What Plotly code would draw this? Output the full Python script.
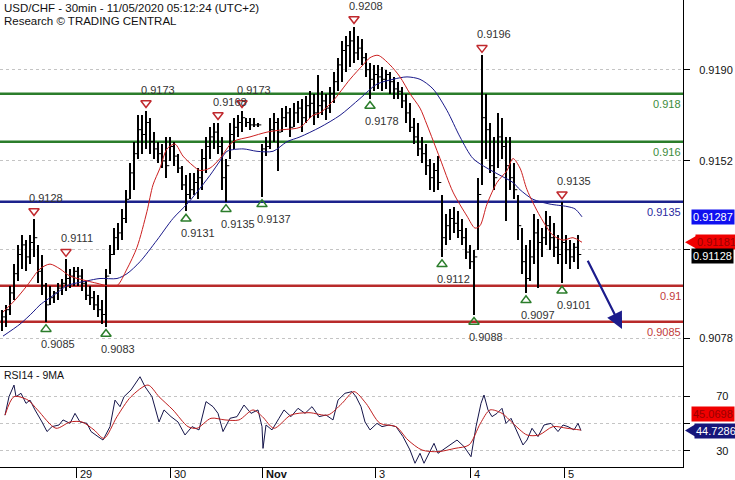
import numpy as np
import plotly.graph_objects as go

# ---------------- data (prices in 1e-4 CHF, i.e. 9128 = 0.9128) ----------------
HIGH = [9090, 9092, 9100, 9109, 9117, 9121, 9119, 9121, 9128, 9117,
        9113, 9101, 9100, 9098, 9101, 9103, 9111, 9107, 9108, 9108,
        9107, 9102, 9100, 9098, 9096, 9094, 9107, 9117, 9124, 9126,
        9132, 9140, 9151, 9160, 9171, 9171, 9173, 9170, 9164, 9160,
        9159, 9162, 9162, 9160, 9155, 9150, 9146, 9147, 9147, 9149,
        9157, 9162, 9166, 9168, 9168, 9162, 9153, 9168, 9170, 9171,
        9173, 9170, 9170, 9170, 9168, 9159, 9162, 9170, 9172, 9170,
        9174, 9175, 9174, 9176, 9177, 9178, 9179, 9181, 9180, 9188,
        9181, 9180, 9183, 9189, 9195, 9202, 9204, 9206, 9208, 9204,
        9203, 9197, 9193, 9192, 9192, 9191, 9190, 9189, 9187, 9185,
        9183, 9180, 9176, 9170, 9168, 9162, 9159, 9153, 9151, 9154,
        9138, 9130, 9132, 9133, 9131, 9128, 9124, 9117, 9115, 9145,
        9196, 9180, 9168, 9162, 9172, 9170, 9162, 9162, 9151, 9138,
        9124, 9117, 9119, 9130, 9128, 9124, 9131, 9129, 9126, 9121,
        9135, 9121, 9119, 9118, 9121]
LOW = [9081, 9083, 9088, 9094, 9102, 9107, 9106, 9109, 9112, 9101,
       9096, 9085, 9092, 9093, 9094, 9096, 9098, 9099, 9100, 9100,
       9098, 9094, 9092, 9090, 9087, 9084, 9083, 9105, 9113, 9115,
       9119, 9126, 9136, 9140, 9153, 9155, 9157, 9155, 9153, 9151,
       9149, 9145, 9152, 9150, 9147, 9140, 9131, 9136, 9138, 9136,
       9140, 9147, 9153, 9157, 9155, 9140, 9135, 9153, 9157, 9162,
       9164, 9166, 9165, 9166, 9166, 9137, 9154, 9157, 9160, 9148,
       9164, 9166, 9162, 9166, 9168, 9164, 9168, 9170, 9167, 9170,
       9171, 9169, 9172, 9176, 9181, 9185, 9189, 9191, 9193, 9194,
       9192, 9187, 9178, 9181, 9182, 9181, 9182, 9180, 9178, 9178,
       9174, 9168, 9164, 9159, 9154, 9151, 9146, 9140, 9139, 9140,
       9112, 9117, 9119, 9122, 9120, 9117, 9111, 9107, 9088, 9115,
       9142, 9153, 9147, 9140, 9149, 9153, 9127, 9140, 9136, 9119,
       9105, 9097, 9102, 9109, 9099, 9112, 9117, 9115, 9112, 9109,
       9101, 9109, 9107, 9110, 9107]
CLOSE = [9087, 9090, 9097, 9105, 9113, 9117, 9112, 9118, 9120, 9106,
         9100, 9092, 9095, 9097, 9099, 9101, 9103, 9104, 9106, 9104,
         9101, 9096, 9095, 9092, 9090, 9088, 9104, 9113, 9120, 9122,
         9128, 9136, 9147, 9155, 9165, 9163, 9168, 9160, 9157, 9155,
         9152, 9150, 9158, 9154, 9149, 9142, 9138, 9140, 9143, 9145,
         9153, 9158, 9162, 9164, 9158, 9145, 9150, 9163, 9166, 9168,
         9170, 9168, 9167, 9167, 9167, 9157, 9158, 9165, 9168, 9164,
         9170, 9172, 9166, 9172, 9174, 9170, 9175, 9176, 9172, 9175,
         9177, 9174, 9180, 9185, 9192, 9198, 9200, 9202, 9197, 9199,
         9195, 9190, 9186, 9188, 9187, 9186, 9188, 9185, 9182, 9181,
         9177, 9172, 9166, 9162, 9157, 9155, 9150, 9145, 9148, 9143,
         9120, 9125, 9128, 9126, 9123, 9120, 9114, 9110, 9112, 9138,
         9170, 9165, 9150, 9145, 9162, 9158, 9150, 9145, 9140, 9125,
         9110, 9103, 9112, 9122, 9118, 9120, 9125, 9120, 9116, 9113,
         9118, 9115, 9112, 9116, 9113]

# moving averages on price, bar-index positions
RED_MA_IDX = [0.25, 3.25, 6.25, 9.5, 12, 14.5, 17, 21.25, 23.75, 26.25, 28.75,
              31.25, 33.75, 36.25, 37.75, 39.5, 41.25, 43.25, 45.25, 47.75, 49.5,
              52, 54.5, 57.75, 62, 66.25, 70.25, 74.5, 77.75, 79.5, 82.75, 87,
              90.25, 92, 94, 97, 99.5, 102, 104.5, 106.25, 109.5, 112.75, 116.25,
              118.25, 119.5, 121.25, 123.75, 126.25, 127.75, 129.5, 131.25, 134.5,
              137.75, 140.25, 142.75, 145]
RED_MA = [9089, 9094, 9100, 9107, 9109, 9107, 9104, 9102, 9101, 9100, 9100,
          9107, 9116, 9131, 9142, 9149, 9157, 9159, 9154, 9150, 9148,
          9149, 9153, 9160, 9162, 9164, 9165, 9166, 9171, 9172, 9177, 9186,
          9192, 9195, 9196, 9192, 9187, 9180, 9174, 9167, 9153, 9139, 9129,
          9124, 9125, 9134, 9143, 9148, 9153, 9149, 9140, 9129,
          9121, 9119, 9120, 9118.1]
BLUE_MA_IDX = [0.25, 4.5, 7.75, 9.5, 13.75, 16.25, 21.25, 24.5, 28.75, 31.25,
               34.5, 38.75, 42.75, 46.25, 48.75, 52, 54.5, 56.25, 60.25, 63.75,
               67.75, 71.25, 74.5, 79.5, 84.5, 89.5, 93.75, 97.75, 101.25, 104.5,
               107.75, 111.25, 114.5, 117.75, 121.25, 124.5, 127.75, 129.5,
               132.75, 137, 141.25, 143.25, 145]
BLUE_MA = [9079, 9084, 9089, 9092, 9097, 9100, 9102, 9103, 9103, 9105,
           9110, 9119, 9128, 9134, 9139, 9146, 9152, 9156, 9157, 9156,
           9156, 9160, 9162, 9166, 9171, 9178, 9184, 9186, 9187, 9186,
           9182, 9173, 9162, 9153, 9149, 9146, 9143, 9140,
           9136, 9134, 9133, 9132, 9128.7]

# RSI(14) and its 9-period MA
RSI_IDX = [0.75, 1.75, 3, 3.5, 4.75, 6, 7, 8.25, 10, 11.25, 12.5, 14.25, 15.25,
           17, 18.25, 19.5, 21.25, 22.25, 24, 25.25, 27, 28.25, 29.5, 30.5,
           32.25, 34.5, 35.75, 37.5, 39.25, 40.5, 42.25, 44, 45.75, 47.5, 49.25,
           51, 52.75, 54, 55.25, 57, 58.75, 60.5, 62.25, 64, 65, 65.25, 66,
           67.5, 69.25, 70.5, 72.25, 74, 75.75, 77.5, 79.25, 81, 82.75, 84,
           85.75, 87.5, 88.5, 89.75, 90.75, 92, 93.75, 95, 96.75, 98.5, 100.25,
           102, 103.25, 104.5, 105.5, 106.75, 108, 109, 110.25, 112, 113.75,
           115.5, 117.25, 118.5, 119.75, 120.5, 121.5, 122.5, 123.75, 125, 126,
           127.25, 128.5, 130.25, 131.25, 132.5, 134, 135.5, 137.25, 139,
           140.25, 141.5, 143, 144, 144.75]
RSI = [56, 69.5, 78, 69.5, 72, 64.6, 67, 59.8, 51, 44, 47.6, 48.8, 52.5,
       50, 57.3, 51, 50, 44, 40.3, 37.8, 47.6, 67, 62.2, 69.5,
       74.4, 84.1, 76.8, 69.5, 51, 59.8, 54.9, 51, 41.5, 47.6, 45.2,
       65.9, 62.2, 57.3, 44, 53.7, 54.9, 63.4, 57.3, 59.8, 47.6, 31.7, 48.8,
       45.2, 53.7, 59.8, 54.9, 61, 57.3, 62.2, 54.9, 56.1, 52.5, 67,
       72, 73.2, 69.5, 62.2, 51, 45.2, 50, 47.6, 48.8, 47.6, 40.3,
       30.5, 20.8, 28.1, 20.8, 28.1, 35.4, 28.1, 30.5, 34.2, 37.8,
       33, 25.6, 47.6, 64.6, 70.7, 59.8, 54.9, 57.3, 61, 50,
       53.7, 45.2, 34.2, 37.8, 46.4, 40.3, 48.8, 50, 44,
       48.8, 47.6, 45.2, 50, 44.73]
RSI_MA_IDX = [0.75, 3, 6.5, 8.9, 13.5, 17, 20, 23, 25.5, 28.75, 32.25, 36.5,
              39.25, 42.75, 46.5, 48.75, 52.25, 55.75, 59.25, 62.75, 65.1, 68,
              72.25, 76.75, 81.5, 85, 88, 91, 94.5, 98.5, 101.5, 105, 109,
              113.25, 116.75, 119.6, 122, 125, 127.75, 131.25, 134.25, 137.75,
              141.25, 144.75]
RSI_MA = [56, 69.5, 67, 59.8, 46.4, 51, 51, 45.2, 39, 54.9, 69.5, 78,
          69.5, 59.8, 47.6, 46.4, 53.7, 52.5, 52.5, 59.8, 54.9, 46.4,
          56.1, 57.8, 56.1, 64.6, 73.2, 64.6, 50, 47.6, 37.8, 30.5, 29.3,
          31.7, 34.2, 50, 59.8, 57.3, 50, 41.5, 41.5, 47.6,
          46.4, 45.07]

# day ticks on the time axis (bar-index positions)
TICK_POS = [18.5, 42, 65, 93.25, 117, 140.5]
TICK_LABELS = ["29", "30", "<b>Nov</b>", "3", "4", "5"]

PRICE_TICKS = [0.9078, 0.9115, 0.9152, 0.9190]
PRICE_TICK_TEXT = ["0.9078", "", "0.9152", "0.9190"]
RSI_TICKS = [30, 50, 70]
RSI_TICK_TEXT = ["30", "", "70"]

LEVELS = [0.918, 0.916, 0.9135, 0.91, 0.9085]
LEVEL_LABELS = ["0.918", "0.916", "0.9135", "0.91", "0.9085"]
LEVEL_COLORS = ["#2b7d2b", "#2b7d2b", "#1c228c", "#b82a2a", "#b82a2a"]
LEVEL_TEXT_COLORS = ["#3c8c3c", "#3c8c3c", "#2a2aa0", "#c23c3c", "#c23c3c"]

PEAK_IDX = [8, 16, 36, 54, 60, 88, 120, 140]
PEAK_VAL = [0.9128, 0.9111, 0.9173, 0.9168, 0.9173, 0.9208, 0.9196, 0.9135]
TROUGH_IDX = [11, 26, 46, 56, 65, 92, 110, 118, 131, 140]
TROUGH_VAL = [0.9085, 0.9083, 0.9131, 0.9135, 0.9137, 0.9178, 0.9112, 0.9088,
              0.9097, 0.9101]

LAST_PRICE = 0.91128
LAST_RED_MA = 0.91181
LAST_BLUE_MA = 0.91287
LAST_RSI = 44.7286
LAST_RSI_MA = 45.0698

FORECAST_IDX = [146.25, 155]
FORECAST_PRICE = [0.9111, 0.9082]

# ---------------- figure ----------------
FONT = "Liberation Sans, Arial, sans-serif"
W, H = 735, 480
ML, MR, MT, MB = 0, 52, 0, 13
PLOT_W = W - ML - MR
PLOT_H = H - MT - MB
SPLIT = 101 / PLOT_H  # RSI panel height fraction

hi = np.array(HIGH) / 1e4
lo = np.array(LOW) / 1e4
cl = np.array(CLOSE) / 1e4
idx = np.arange(len(HIGH))

fig = go.Figure()

fig.add_trace(go.Bar(x=idx, y=hi - lo, base=lo, width=0.62,
                     marker=dict(color="black", line=dict(width=0)),
                     xaxis="x", yaxis="y", showlegend=False, hoverinfo="skip"))
fig.add_trace(go.Scatter(x=idx + 0.3, y=cl, mode="markers",
                         marker=dict(symbol="line-ew", size=3, color="black",
                                     line=dict(width=1, color="black")),
                         xaxis="x", yaxis="y", showlegend=False, hoverinfo="skip"))
fig.add_trace(go.Scatter(x=BLUE_MA_IDX, y=np.array(BLUE_MA) / 1e4, mode="lines",
                         line=dict(color="#1a1a8a", width=1, shape="spline", smoothing=0.8),
                         xaxis="x", yaxis="y", showlegend=False, hoverinfo="skip"))
fig.add_trace(go.Scatter(x=RED_MA_IDX, y=np.array(RED_MA) / 1e4, mode="lines",
                         line=dict(color="#cc2020", width=1, shape="spline", smoothing=0.8),
                         xaxis="x", yaxis="y", showlegend=False, hoverinfo="skip"))

TRI_OFF = 0.00031
fig.add_trace(go.Scatter(x=PEAK_IDX, y=np.array(PEAK_VAL) + TRI_OFF, mode="markers",
                         marker=dict(symbol="triangle-down-open", size=9, color="#c0282d",
                                     line=dict(width=1.5, color="#c0282d")),
                         xaxis="x", yaxis="y", showlegend=False, hoverinfo="skip"))
fig.add_trace(go.Scatter(x=TROUGH_IDX, y=np.array(TROUGH_VAL) - TRI_OFF, mode="markers",
                         marker=dict(symbol="triangle-up-open", size=9, color="#2b7d2b",
                                     line=dict(width=1.5, color="#2b7d2b")),
                         xaxis="x", yaxis="y", showlegend=False, hoverinfo="skip"))

# RSI panel
fig.add_trace(go.Scatter(x=RSI_IDX, y=RSI, mode="lines",
                         line=dict(color="#15154a", width=1),
                         xaxis="x2", yaxis="y2", showlegend=False, hoverinfo="skip"))
fig.add_trace(go.Scatter(x=RSI_MA_IDX, y=RSI_MA, mode="lines",
                         line=dict(color="#c02020", width=1, shape="spline", smoothing=0.8),
                         xaxis="x2", yaxis="y2", showlegend=False, hoverinfo="skip"))

XR = [-0.5, 170.25]
shapes = []
annotations = []

for lv, lab, c, tc in zip(LEVELS, LEVEL_LABELS, LEVEL_COLORS, LEVEL_TEXT_COLORS):
    shapes.append(dict(type="line", xref="paper", yref="y", x0=0, x1=1, y0=lv, y1=lv,
                       line=dict(color=c, width=2.5), layer="below"))
    annotations.append(dict(xref="paper", yref="y", x=1, y=lv, xanchor="right",
                            yanchor="top", yshift=-2, text=lab, showarrow=False,
                            font=dict(family=FONT, size=11, color=tc)))

for xi, v in zip(PEAK_IDX, PEAK_VAL):
    annotations.append(dict(xref="x", yref="y", x=xi, y=v, xanchor="left",
                            yanchor="middle", xshift=-7, yshift=21,
                            text=f"{v:.4f}", showarrow=False,
                            font=dict(family=FONT, size=11, color="#333333")))
for xi, v in zip(TROUGH_IDX, TROUGH_VAL):
    annotations.append(dict(xref="x", yref="y", x=xi, y=v, xanchor="left",
                            yanchor="middle", xshift=-7, yshift=-22,
                            text=f"{v:.4f}", showarrow=False,
                            font=dict(family=FONT, size=11, color="#333333")))

# forecast arrow
annotations.append(dict(xref="x", yref="y", axref="x", ayref="y",
                        x=FORECAST_IDX[1], y=FORECAST_PRICE[1],
                        ax=FORECAST_IDX[0], ay=FORECAST_PRICE[0],
                        text="", showarrow=True, arrowhead=2, arrowsize=1.5,
                        arrowwidth=2.2, arrowcolor="#1c1c8c"))

# title
annotations.append(dict(xref="paper", yref="paper", x=0, y=1, xanchor="left",
                        yanchor="top", xshift=2, yshift=0,
                        text="USD/CHF - 30min - 11/05/2020 05:12:24 (UTC+2)",
                        showarrow=False, font=dict(family=FONT, size=11.5, color="#111111")))
annotations.append(dict(xref="paper", yref="paper", x=0, y=1, xanchor="left",
                        yanchor="top", xshift=2, yshift=-13,
                        text="Research © TRADING CENTRAL",
                        showarrow=False, font=dict(family=FONT, size=11.5, color="#111111")))
annotations.append(dict(xref="paper", yref="paper", x=0, y=SPLIT, xanchor="left",
                        yanchor="top", xshift=2, yshift=-1, text="RSI14 - 9MA",
                        showarrow=False, font=dict(family=FONT, size=10.5, color="#111111")))

# day labels
for tp, tl in zip(TICK_POS, TICK_LABELS):
    annotations.append(dict(xref="x2", yref="paper", x=tp, y=0, xanchor="left",
                            yanchor="top", xshift=2, yshift=1, text=tl,
                            showarrow=False,
                            font=dict(family=FONT, size=11, color="#111111")))

# right-side value tags
def px2paper(px):
    return px / PLOT_W

annotations.append(dict(xref="paper", yref="y", x=px2paper(691), y=LAST_BLUE_MA,
                        xanchor="left", yanchor="middle", text=f"{LAST_BLUE_MA:.5f}",
                        showarrow=False, bgcolor="#1010f0", borderpad=1,
                        font=dict(family=FONT, size=11, color="white")))
annotations.append(dict(xref="paper", yref="y", x=px2paper(695), y=LAST_RED_MA,
                        xanchor="left", yanchor="middle", text=f"{LAST_RED_MA:.5f}",
                        showarrow=False, bgcolor="#f00000", borderpad=1,
                        font=dict(family=FONT, size=11, color="#9a0000")))
shapes.append(dict(type="path", xref="paper", yref="y", fillcolor="#f00000",
                   line=dict(width=0),
                   path=f"M {px2paper(685)},{LAST_RED_MA} L {px2paper(696)},{LAST_RED_MA + 0.00026} "
                        f"L {px2paper(696)},{LAST_RED_MA - 0.00026} Z"))
annotations.append(dict(xref="paper", yref="y", x=px2paper(691), y=LAST_PRICE,
                        xanchor="left", yanchor="middle", yshift=-1, text=f"{LAST_PRICE:.5f}",
                        showarrow=False, bgcolor="#000000", borderpad=1,
                        font=dict(family=FONT, size=11, color="white")))

annotations.append(dict(xref="paper", yref="y2", x=px2paper(691), y=LAST_RSI_MA,
                        xanchor="left", yanchor="middle", yshift=16,
                        text=f"{LAST_RSI_MA:.4f}", showarrow=False, bgcolor="#f00000",
                        borderpad=1, font=dict(family=FONT, size=11, color="#9a0000")))
annotations.append(dict(xref="paper", yref="y2", x=px2paper(694), y=LAST_RSI,
                        xanchor="left", yanchor="middle",
                        text=f"{LAST_RSI:.4f}", showarrow=False, bgcolor="#15157a",
                        borderpad=1, font=dict(family=FONT, size=11, color="white")))
shapes.append(dict(type="path", xref="paper", yref="y2", fillcolor="#15157a",
                   line=dict(width=0),
                   path=f"M {px2paper(685)},{LAST_RSI} L {px2paper(695)},{LAST_RSI + 4.4} "
                        f"L {px2paper(695)},{LAST_RSI - 4.4} Z"))

axis_common = dict(showgrid=False, zeroline=False, automargin=False)

fig.update_layout(
    width=W, height=H, template="none",
    margin=dict(l=ML, r=MR, t=MT, b=MB, pad=0),
    paper_bgcolor="white", plot_bgcolor="white",
    showlegend=False, hovermode=False,
    font=dict(family=FONT, size=11, color="#111111"),
    xaxis=dict(domain=[0, 1], anchor="y", range=XR, showticklabels=False, ticks="",
               showline=True, linecolor="black", linewidth=1, **axis_common),
    xaxis2=dict(domain=[0, 1], anchor="y2", range=XR, tickvals=TICK_POS,
                ticktext=[""] * len(TICK_POS), ticks="outside", ticklen=10,
                tickcolor="black", tickwidth=1, showline=True, linecolor="black",
                linewidth=1, **axis_common),
    yaxis=dict(domain=[SPLIT, 1], anchor="x", side="right",
               range=[0.906654, 0.921904], tickvals=PRICE_TICKS,
               ticktext=PRICE_TICK_TEXT, ticks="outside", ticklen=6,
               tickcolor="black", showline=True, linecolor="black", linewidth=1,
               showgrid=True, gridcolor="#c4c4c4", griddash="dot", gridwidth=1,
               zeroline=False, automargin=False, ticklabelstandoff=7,
               tickfont=dict(family=FONT, size=11, color="#111111")),
    yaxis2=dict(domain=[0, SPLIT], anchor="x2", side="right", range=[18.08, 91.94],
                tickvals=RSI_TICKS, ticktext=RSI_TICK_TEXT, ticks="outside",
                ticklen=6, tickcolor="black", showline=True, linecolor="black",
                linewidth=1, showgrid=True, gridcolor="#c4c4c4", griddash="dot",
                gridwidth=1, zeroline=False, automargin=False, ticklabelstandoff=24,
                tickfont=dict(family=FONT, size=11, color="#111111")),
    shapes=shapes,
    annotations=annotations,
    bargap=0,
)

fig.write_html("out.html", config={"displayModeBar": False},
               post_script="document.body.style.margin='0px';document.body.style.padding='0px';")
